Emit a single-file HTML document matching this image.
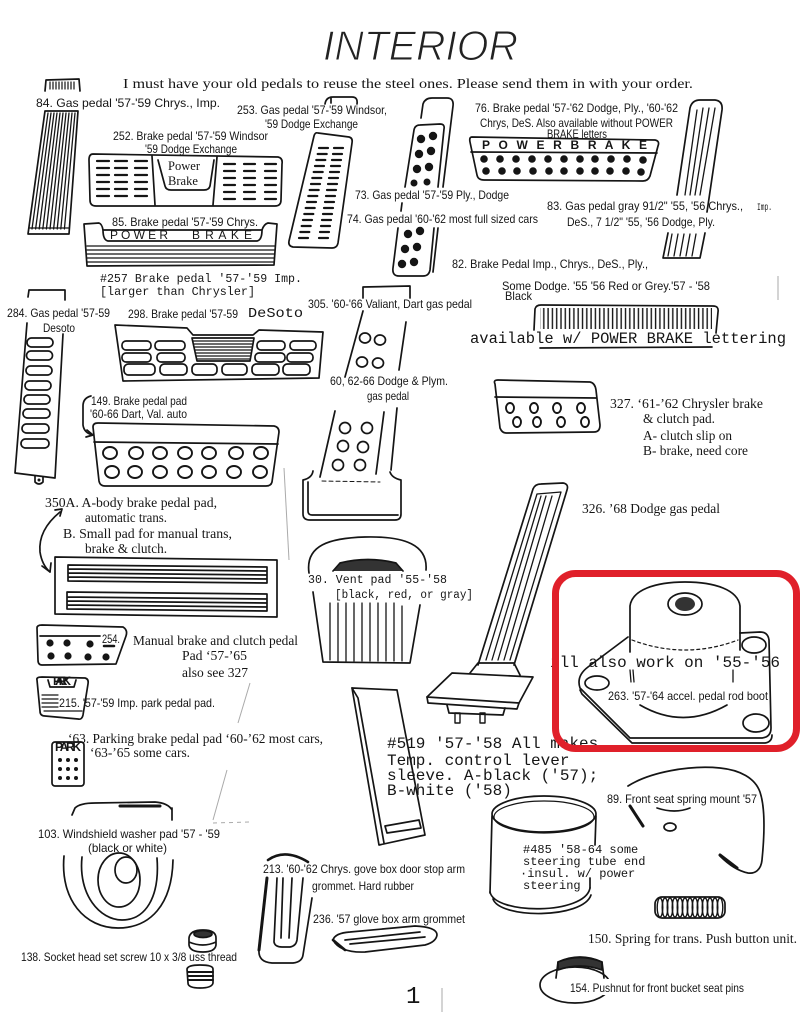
<!DOCTYPE html>
<html><head><meta charset="utf-8">
<style>
html,body{margin:0;padding:0;background:#fff;}
svg{display:block}
.s{font-family:"Liberation Sans",sans-serif;font-size:12px;fill:#151515}
.r{font-family:"Liberation Serif",serif;font-size:14px;fill:#151515}
.m{font-family:"Liberation Mono",monospace;font-size:12px;fill:#151515}
.k{fill:none;stroke:#151515;stroke-width:1.7;stroke-linejoin:round;stroke-linecap:round}
</style></head><body>
<svg width="803" height="1018" viewBox="0 0 803 1018" xmlns="http://www.w3.org/2000/svg">
<defs>
<pattern id="vl" width="4.3" height="40" patternUnits="userSpaceOnUse"><path d="M2,0V40" stroke="#151515" stroke-width="1.4"/></pattern>
</defs>
<rect width="803" height="1018" fill="#fff"/>

<!-- Title -->
<text x="323" y="60" font-family="Liberation Sans, sans-serif" font-style="italic" font-size="42" fill="#222" stroke="#fff" stroke-width="1.1" textLength="195" lengthAdjust="spacingAndGlyphs">INTERIOR</text>
<text class="r" x="123" y="88" font-size="16" textLength="570" lengthAdjust="spacingAndGlyphs">I must have your old pedals to reuse the steel ones.  Please send them in with your order.</text>

<g class="k">
<!-- 84 -->
<path d="M45,91 L46,80 L79,79 L80,91"/>
<path d="M50,82v7M53,82v7M56,82v7M59,82v7M62,82v7M65,82v7M68,82v7M71,82v7M74,82v7" stroke-width="1.2"/>
<path d="M45,111 L78,111 L69,234 L28,234 Z"/>
<path d="M48,113L32,229M51,113L35.6,229M54,113L39.2,229M57,113L42.8,229M60,113L46.4,229M63,113L50,229M66,113L53.6,229M69,113L57.2,229M72,113L60.8,229M75,113L64.4,229M29,228L69,228" stroke-width="1.3"/>

<!-- 252 -->
<path d="M93,154 L278,157 Q283,158 282,164 L281,200 Q281,206 275,206 L96,206 Q90,206 90,200 L89,160 Q89,154 93,154 Z"/>
<path d="M152,156 L155,205 M217,157 L213,205"/>
<path d="M158,160 L165,186 Q166,190 171,190 L204,190 Q209,190 210,186 L214,160"/>
<path stroke-width="2.2" d="M97,161h12M115,161h12M135,161h12M97,168h12M115,168h12M135,168h12M97,175h12M115,175h12M135,175h12M97,182h12M115,182h12M135,182h12M97,189h12M115,189h12M135,189h12M97,196h12M115,196h12M135,196h12M224,164h11M244,164h11M265,164h11M224,171h11M244,171h11M265,171h11M224,178h11M244,178h11M265,178h11M224,185h11M244,185h11M265,185h11M224,192h11M244,192h11M265,192h11M224,199h11M244,199h11M265,199h11"/>

<!-- 85 -->
<path d="M84,224 L99,223 Q102,224 103,230 L262,230 Q264,224 268,223 L277,224 L274,265 L87,266 Z"/>
<path d="M103,230 Q103,240 108,241 L257,241 Q262,240 262,230"/>
<path d="M87,246 L275,246 M87,250 L275,250 M87,254 L275,254 M87,258 L274,258 M87,262 L274,262" stroke-width="1.2"/>

<!-- 253 -->
<path d="M325,104 Q326,97 333,97 L352,97 Q358,97 357,104 M331,97 L331,103"/>
<path d="M318,133 L349,137 Q353,138 352,143 L338,243 Q337,248 332,248 L293,247 Q288,246 289,241 L314,136 Q315,132 318,133 Z"/>
<path stroke-width="2.2" d="M319,148h9M334,148h9M317.7,154h9M333,154h9M316.3,160h9M332,160h9M315,166h9M331,166h9M313.7,172h9M330,172h9M312.3,178h9M329,178h9M311,184h9M328,184h9M309.7,190h9M327,190h9M308.3,196h9M326,196h9M307,202h9M325,202h9M305.7,208h9M324,208h9M304.3,214h9M323,214h9M303,220h9M322,220h9M301.7,226h9M321,226h9M300.3,232h9M320,232h9M299,238h9M319,238h9"/>

<!-- 73/74 -->
<path d="M421,118 L423,104 Q425,98 432,98 L447,98 Q454,98 453,106 L443,187 M438,228 L433,272"/>
<path d="M414,130 Q415,125 420,125 L440,124 Q445,124 444,129 L438,187 M434,228 L430,270 Q429,276 423,276 L399,276 Q392,276 393,268 L398,228 M401,211 L402,203 M405,187 L414,130"/>

<!-- 76 -->
<path d="M472,137 L655,140 Q660,141 658,146 L650,176 Q648,181 643,181 L484,180 Q478,180 477,175 L470,142 Q469,137 472,137 Z"/>
<path d="M471,152 L657,153"/>

<!-- 83 -->
<path d="M677,195 L690,108 Q692,100 700,100 L715,100 Q723,101 722,110 L707,212 M705,233 L700,258 L663,258 L668,233"/>
<path d="M697,110 L685,195 M703,108 L690,195 M709,108 L695,195 M715,108 L700,195 M672,234 L668,256 M678,234 L674,256 M684,234 L680,256 M690,234 L686,256 M696,234 L692,256" stroke-width="1.3"/>

<!-- 82 -->
<path d="M534,330 L535,309 Q536,305 541,305 L713,306 Q719,306 718,312 L716,333"/>
<path d="M540,348 L712,347"/>

<!-- 284 -->
<path d="M28,297 L29,290 L65,290 L65,300"/>
<path d="M27,323 L15,473 L55,478 M63,334 L55,478"/>
<path d="M35,476 L35,482 Q39,486 43,482 L43,477"/>
<rect x="27" y="338" width="26" height="9" rx="4.5"/>
<rect x="26.5" y="351" width="26" height="9" rx="4.5"/>
<rect x="26" y="366" width="26" height="9" rx="4.5"/>
<rect x="25" y="381" width="26" height="9" rx="4.5"/>
<rect x="24" y="395" width="26" height="9" rx="4.5"/>
<rect x="23" y="409" width="27" height="9" rx="4.5"/>
<rect x="22" y="424" width="27" height="9" rx="4.5"/>
<rect x="21" y="439" width="28" height="9" rx="4.5"/>

<!-- 298 -->
<path d="M115,325 L187,328 L193,335 L253,335 L259,330 L323,332 L319,378 L123,381 Z"/>
<rect x="122" y="341" width="29" height="9" rx="4"/>
<rect x="155" y="341" width="30" height="9" rx="4"/>
<rect x="257" y="341" width="28" height="9" rx="4"/>
<rect x="290" y="341" width="26" height="9" rx="4"/>
<rect x="122" y="353" width="29" height="9" rx="4"/>
<rect x="157" y="353" width="28" height="9" rx="4"/>
<rect x="255" y="353" width="30" height="9" rx="4"/>
<rect x="287" y="353" width="26" height="9" rx="4"/>
<rect x="124" y="364" width="31" height="11" rx="4.5"/>
<rect x="160" y="364" width="27" height="11" rx="4.5"/>
<rect x="192" y="364" width="25" height="11" rx="4.5"/>
<rect x="222" y="364" width="25" height="11" rx="4.5"/>
<rect x="252" y="364" width="27" height="11" rx="4.5"/>
<rect x="283" y="364" width="27" height="11" rx="4.5"/>
<path d="M192,338 L254,338 L250,361 L197,361 Z"/>
<path d="M193,341H253M194,344H252M195,347H252M195,350H251M196,353H251M196,356H250M197,359H250" stroke-width="1.2"/>

<!-- 305 -->
<path d="M363,298 L363,287 L410,286 L410,298"/>
<path d="M363,311 L345,377 M406,322 L399,370"/>
<ellipse cx="365" cy="338" rx="5.5" ry="5"/>
<ellipse cx="380" cy="340" rx="5.5" ry="5"/>
<ellipse cx="362" cy="362" rx="5.5" ry="5"/>
<ellipse cx="378" cy="363" rx="5.5" ry="5"/>

<!-- 60,62-66 -->
<path d="M335,411 L320,477 M384,412 L376,474 M397,408 L391,470"/>
<ellipse cx="345" cy="428" rx="5.5" ry="5.5"/>
<ellipse cx="367" cy="428" rx="5.5" ry="5.5"/>
<ellipse cx="343" cy="446" rx="5.5" ry="5.5"/>
<ellipse cx="363" cy="447" rx="5.5" ry="5.5"/>
<ellipse cx="338" cy="465" rx="5.5" ry="5.5"/>
<ellipse cx="360" cy="465" rx="5.5" ry="5.5"/>
<path d="M313,471 Q312,478 303,480 L303,514 Q303,520 310,520 L395,520 Q401,520 401,514 L401,480 Q392,478 390,472"/>
<path d="M308,482 L308,511 Q308,515 312,515 L398,515"/>
<path d="M322,481 L380,482" stroke-dasharray="4,3" stroke-width="1"/>

<!-- 149 -->
<path d="M93,427 Q93,423 98,423 L274,426 Q279,427 279,432 L272,482 Q271,486 266,486 L105,486 Q100,486 99,481 Z"/>
<path d="M94,442 L278,444"/>
<path d="M91,396 Q83,398 83,406 L83,425 Q84,433 93,435 M87,430 L93,435 L86,437"/>
<g stroke-width="1.9">
<ellipse cx="110" cy="453" rx="7" ry="6"/><ellipse cx="136" cy="453" rx="7" ry="6"/><ellipse cx="160" cy="453" rx="7" ry="6"/><ellipse cx="185" cy="453" rx="7" ry="6"/><ellipse cx="209" cy="453" rx="7" ry="6"/><ellipse cx="236" cy="453" rx="7" ry="6"/><ellipse cx="261" cy="453" rx="7" ry="6"/>
<ellipse cx="112" cy="472" rx="7" ry="6"/><ellipse cx="135" cy="472" rx="7" ry="6"/><ellipse cx="160" cy="472" rx="7" ry="6"/><ellipse cx="185" cy="472" rx="7" ry="6"/><ellipse cx="209" cy="472" rx="7" ry="6"/><ellipse cx="234" cy="472" rx="7" ry="6"/><ellipse cx="260" cy="472" rx="7" ry="6"/>
</g>

<!-- 327 -->
<path d="M495,384 Q493,380 498,380 L590,382 Q595,383 596,390 L600,425 Q600,432 594,432 L506,433 Q502,433 500,428 Z"/>
<path d="M495,397 L596,398"/>
<g stroke-width="1.9">
<ellipse cx="510" cy="408" rx="4" ry="5"/><ellipse cx="534" cy="408" rx="4" ry="5"/><ellipse cx="557" cy="408" rx="4" ry="5"/><ellipse cx="581" cy="408" rx="4" ry="5"/>
<ellipse cx="517" cy="422" rx="4" ry="5"/><ellipse cx="537" cy="422" rx="4" ry="5"/><ellipse cx="561" cy="422" rx="4" ry="5"/><ellipse cx="585" cy="422" rx="4" ry="5"/>
</g>

<!-- 326 -->
<path d="M478,665 L533,489 Q535,484 541,484 L563,483 Q569,484 567,490 L514,665"/>
<path d="M486,660 L537,494 L561,492 L510,660 M492,660 L541,496 M498,660 L546,496 M504,660 L552,496" stroke-width="1.3"/>
<path d="M470,673 L478,663 L514,663 L520,675"/>
<path d="M427,697 L452,673 L533,677 L519,703 Z"/>
<path d="M427,697 L428,703 L517,709 L519,703"/>
<path d="M447,705 L449,713 L503,715 L505,708"/>
<rect x="455" y="713" width="5" height="10" stroke-width="1.4"/>
<rect x="480" y="713" width="5" height="10" stroke-width="1.4"/>

<!-- 350A -->
<path d="M60,512 Q38,530 40,552 Q42,565 50,572"/>
<path d="M55,510 L62,509 L60,516 M42,566 L50,572 L51,563"/>
<path d="M55,557 L277,560 L277,617 L55,614 Z"/>
<path d="M68,565 L267,567 L267,583 L68,581 Z M68,569 L267,571 M68,573 L267,575 M68,577 L267,579"/>
<path d="M67,592 L267,594 L267,611 L67,609 Z M67,597 L267,599 M67,601 L267,603 M67,605 L267,607"/>

<!-- 30 vent pad -->
<path d="M309,573 C305,545 330,538 365,537 C405,536 428,545 426,570"/>
<path d="M333,571 L340,563 Q368,556 396,563 L403,571" fill="#333"/>
<path d="M313,592 L323,662 L410,663 L420,605"/>
<path d="M330,603V660M338,603V661M346,603V661M354,603V661M362,603V661M370,603V661M378,603V661M386,603V661M394,603V661M402,606V661" stroke-width="1.3"/>

<!-- 519 sleeve -->
<path d="M352,688 L397,690 L425,835 L379,845 Z"/>
<path d="M352,688 L358,698 L384,843"/>
<path d="M385,826 L419,820 L421,828 L387,833 Z"/>

<!-- 254 -->
<path d="M37,628 Q37,625 42,625 L123,627 Q128,630 126,636 L116,664 L42,665 Q38,665 38,660 Z"/>
<path d="M40,636 L100,636"/>
<path d="M104,646 L114,646" stroke-width="2.5"/>

<!-- 215 -->
<path d="M37,680 Q36,677 42,677 L85,678 Q89,679 88,684 L83,715 Q82,720 78,719 L45,716 Q40,716 40,711 Z"/>
<path d="M48,680 L50,687 L74,687 L76,680"/>
<path d="M42,695 L58,695 M42,699 L58,699 M42,703 L58,703 M42,707 L58,707 M44,711 L82,711" stroke-width="1.2"/>

<!-- 63 park -->
<rect x="52" y="742" width="32" height="44" rx="3"/>

<!-- 263 boot -->
<path d="M630,652 L630,606 C632,590 655,582 685,582 C715,582 738,590 740,606 L740,650"/>
<path d="M632,640 Q685,660 738,640" stroke-dasharray="3,3" stroke-width="1.2"/>
<ellipse cx="685" cy="604" rx="17" ry="11"/>
<path d="M628,637 L588,667 Q576,676 580,688 L630,738 L762,738 Q771,737 771,728 L769,640 Q768,632 760,632 L740,633"/>
<path d="M580,690 L582,694 L632,743 L765,743 Q772,742 772,735"/>
<ellipse cx="597" cy="683" rx="12" ry="7"/>
<ellipse cx="754" cy="645" rx="12" ry="8"/>
<ellipse cx="756" cy="723" rx="13" ry="9"/>
<path d="M640,705 Q683,730 727,705"/>
<path d="M630,670 L631,682 M633,670 L634,682 M733,670 L733,682" stroke-width="1.3"/>

<!-- 89 -->
<path d="M628,786 C650,772 690,765 720,768 C740,770 755,778 760,792 C766,810 764,840 762,860 C761,870 755,874 748,873 C738,871 728,864 720,856"/>
<path d="M630,806 L643,826 M720,855 L737,868" stroke-width="3"/>
<path d="M657,808 Q675,814 690,808"/>
<ellipse cx="670" cy="827" rx="6" ry="4"/>

<!-- 485 -->
<ellipse cx="544" cy="814" rx="52" ry="18"/>
<ellipse cx="544" cy="817" rx="50" ry="16" stroke-width="1.2"/>
<path d="M492,816 L490,893 M596,816 L595,845 M590,878 L590,888"/>
<path d="M490,892 C495,915 585,915 590,888 M493,899 C500,919 583,919 591,895"/>

<!-- 150 spring -->
<rect x="655" y="897" width="70" height="21" rx="7"/>
<g stroke-width="1.4">
<ellipse cx="660" cy="907.5" rx="2.8" ry="9.5"/><ellipse cx="665" cy="907.5" rx="2.8" ry="9.5"/><ellipse cx="670" cy="907.5" rx="2.8" ry="9.5"/><ellipse cx="675" cy="907.5" rx="2.8" ry="9.5"/><ellipse cx="680" cy="907.5" rx="2.8" ry="9.5"/><ellipse cx="685" cy="907.5" rx="2.8" ry="9.5"/><ellipse cx="690" cy="907.5" rx="2.8" ry="9.5"/><ellipse cx="695" cy="907.5" rx="2.8" ry="9.5"/><ellipse cx="700" cy="907.5" rx="2.8" ry="9.5"/><ellipse cx="705" cy="907.5" rx="2.8" ry="9.5"/><ellipse cx="710" cy="907.5" rx="2.8" ry="9.5"/><ellipse cx="715" cy="907.5" rx="2.8" ry="9.5"/><ellipse cx="720" cy="907.5" rx="2.8" ry="9.5"/>
</g>

<!-- 154 -->
<ellipse cx="575" cy="985" rx="35" ry="18"/>
<path d="M556,978 L558,962 Q580,952 602,962 L604,978"/>
<path d="M558,962 Q580,953 602,962 L602,970 Q580,962 558,970 Z" fill="#333"/>

<!-- 103 -->
<path d="M72,815 L75,808 Q80,803 95,803 L155,802 Q168,803 172,810 M172,808 L172,820"/>
<path d="M120,806 L160,806" stroke-width="3"/>
<path d="M64,856 C60,900 85,928 118,928 C150,928 172,905 173,860"/>
<path d="M82,857 C78,895 100,920 122,920 C145,920 160,898 157,858"/>
<ellipse cx="119" cy="880" rx="21" ry="27"/>
<ellipse cx="126" cy="870" rx="11" ry="13"/>

<!-- 138 -->
<path d="M189,938 Q190,930 203,930 Q216,930 216,938 L216,945 Q215,952 203,952 Q190,952 189,945 Z M189,942 Q203,948 216,942"/>
<ellipse cx="203" cy="934" rx="9" ry="3.5" fill="#333"/>
<path d="M187,969 Q188,965 200,965 Q213,965 213,969 L213,983 Q212,988 200,988 Q188,988 188,983 Z"/>
<path d="M188,972 L213,972 M188,976 L213,976 M188,980 L213,980" stroke-width="2"/>

<!-- 213 -->
<path d="M268,860 Q285,848 308,862" stroke-width="2.6"/>
<path d="M267,878 L259,950 Q258,962 272,963 L293,963 Q302,962 303,955 L312,898"/>
<path d="M267,878 L259,950" stroke-width="3"/>
<path d="M277,878 L274,942 Q275,947 282,947 L290,947 Q296,946 297,940 L303,878 M283,878 L281,938 M292,878 L289,938"/>

<!-- 236 -->
<path d="M333,940 Q335,933 350,932 L415,926 Q437,927 437,935 Q436,942 425,945 L365,952 Q340,953 333,940 Z"/>
<path d="M345,940 L420,932 M350,944 L425,937"/>
<path d="M333,940 L345,950" stroke-width="2.6"/>
</g>

<!-- faint scan lines -->
<g fill="none" stroke="#aaa" stroke-width="1">
<path d="M284,468 L289,560"/>
<path d="M250,683 L238,723 M227,770 L213,820"/>
<path d="M213,823 L250,822" stroke-dasharray="4,4"/>
<path d="M778,276 L778,300"/>
<path d="M442,988 L442,1012"/>
</g>

<!-- Pattern fills / dots -->
<rect x="540" y="308" width="172" height="21" fill="url(#vl)"/>
<g fill="#151515">
<circle cx="421" cy="139" r="4.2"/><circle cx="433" cy="136" r="4.2"/><circle cx="419" cy="154" r="4.2"/><circle cx="431" cy="151" r="4.2"/><circle cx="417" cy="169" r="4.2"/><circle cx="429" cy="167" r="4.2"/><circle cx="414" cy="183" r="3.5"/><circle cx="427" cy="182" r="3.5"/>
<circle cx="408" cy="234" r="4.2"/><circle cx="420" cy="231" r="4.2"/><circle cx="405" cy="249" r="4.2"/><circle cx="417" cy="247" r="4.2"/><circle cx="402" cy="264" r="4.2"/><circle cx="414" cy="262" r="4.2"/>
<circle cx="484" cy="159" r="3.8"/><circle cx="500" cy="159" r="3.8"/><circle cx="516" cy="159" r="3.8"/><circle cx="532" cy="159" r="3.8"/><circle cx="548" cy="159" r="3.8"/><circle cx="564" cy="159" r="3.8"/><circle cx="580" cy="159" r="3.8"/><circle cx="595" cy="159" r="3.8"/><circle cx="611" cy="159" r="3.8"/><circle cx="627" cy="159" r="3.8"/><circle cx="643" cy="160" r="3.8"/>
<circle cx="486" cy="171" r="3.8"/><circle cx="502" cy="171" r="3.8"/><circle cx="517" cy="171" r="3.8"/><circle cx="533" cy="171" r="3.8"/><circle cx="549" cy="171" r="3.8"/><circle cx="564" cy="171" r="3.8"/><circle cx="580" cy="171" r="3.8"/><circle cx="595" cy="171" r="3.8"/><circle cx="610" cy="171" r="3.8"/><circle cx="626" cy="171" r="3.8"/><circle cx="641" cy="172" r="3.8"/>
<circle cx="50" cy="643" r="3.6"/><circle cx="67" cy="643" r="3.6"/><circle cx="90" cy="644" r="3.6"/>
<circle cx="51" cy="656" r="3.6"/><circle cx="68" cy="656" r="3.6"/><circle cx="88" cy="657" r="3.6"/><circle cx="106" cy="657" r="3.6"/>
<circle cx="60" cy="760" r="2"/><circle cx="68" cy="760" r="2"/><circle cx="76" cy="760" r="2"/>
<circle cx="60" cy="769" r="2"/><circle cx="68" cy="769" r="2"/><circle cx="76" cy="769" r="2"/>
<circle cx="60" cy="778" r="2"/><circle cx="68" cy="778" r="2"/><circle cx="76" cy="778" r="2"/>
<circle cx="39" cy="480" r="1.5"/>
<ellipse cx="685" cy="604" rx="10" ry="7" fill="#333"/>
</g>

<!-- small inset letters -->
<text class="s" x="110" y="239" font-size="7" textLength="58" lengthAdjust="spacing">P O W E R</text>
<text class="s" x="192" y="239" font-size="7" textLength="60" lengthAdjust="spacing">B R A K E</text>
<text class="s" x="482" y="149" font-size="6" font-weight="bold" textLength="165" lengthAdjust="spacing">P  O  W  E  R      B  R  A  K  E</text>
<text class="s" x="53" y="685" font-size="5" font-weight="bold" textLength="18" lengthAdjust="spacing">PARK</text>
<text class="s" x="55" y="751" font-size="6" font-weight="bold" textLength="26" lengthAdjust="spacing">PARK</text>

<!-- Sans labels -->
<g class="s">
<text x="36" y="107" textLength="184" lengthAdjust="spacingAndGlyphs">84. Gas pedal '57-'59 Chrys., Imp.</text>
<text x="237" y="114" textLength="150" lengthAdjust="spacingAndGlyphs">253. Gas pedal '57-'59 Windsor,</text>
<text x="265" y="128" textLength="93" lengthAdjust="spacingAndGlyphs">'59 Dodge Exchange</text>
<text x="113" y="140" textLength="155" lengthAdjust="spacingAndGlyphs">252. Brake pedal '57-'59 Windsor</text>
<text x="145" y="153" textLength="92" lengthAdjust="spacingAndGlyphs">'59 Dodge Exchange</text>
<text x="112" y="226" textLength="146" lengthAdjust="spacingAndGlyphs">85. Brake pedal '57-'59 Chrys.</text>
<text x="475" y="112" textLength="203" lengthAdjust="spacingAndGlyphs">76. Brake pedal '57-'62 Dodge, Ply., '60-'62</text>
<text x="480" y="127" textLength="193" lengthAdjust="spacingAndGlyphs">Chrys, DeS. Also available without POWER</text>
<text x="547" y="138" textLength="60" lengthAdjust="spacingAndGlyphs">BRAKE letters</text>
<text x="355" y="199" textLength="154" lengthAdjust="spacingAndGlyphs">73. Gas pedal '57-'59 Ply., Dodge</text>
<text x="347" y="223" textLength="191" lengthAdjust="spacingAndGlyphs">74. Gas pedal '60-'62 most full sized cars</text>
<text x="547" y="210" textLength="196" lengthAdjust="spacingAndGlyphs">83. Gas pedal gray 91/2" '55, '56 Chrys.,</text>
<text x="567" y="226" textLength="148" lengthAdjust="spacingAndGlyphs">DeS., 7 1/2" '55, '56 Dodge, Ply.</text>
<text x="452" y="268" textLength="196" lengthAdjust="spacingAndGlyphs">82. Brake Pedal Imp., Chrys., DeS., Ply.,</text>
<text x="502" y="290" textLength="208" lengthAdjust="spacingAndGlyphs">Some Dodge. '55 '56  Red or Grey.'57 - '58</text>
<text x="505" y="300" textLength="27" lengthAdjust="spacingAndGlyphs">Black</text>
<text x="308" y="308" textLength="164" lengthAdjust="spacingAndGlyphs">305. '60-'66 Valiant, Dart gas pedal</text>
<text x="7" y="317" textLength="103" lengthAdjust="spacingAndGlyphs">284. Gas pedal '57-59</text>
<text x="43" y="332" textLength="32" lengthAdjust="spacingAndGlyphs">Desoto</text>
<text x="128" y="318" textLength="110" lengthAdjust="spacingAndGlyphs">298. Brake pedal '57-59</text>
<text x="330" y="385" textLength="118" lengthAdjust="spacingAndGlyphs">60, 62-66 Dodge &amp; Plym.</text>
<text x="367" y="400" textLength="42" lengthAdjust="spacingAndGlyphs">gas pedal</text>
<text x="91" y="405" textLength="96" lengthAdjust="spacingAndGlyphs">149. Brake pedal pad</text>
<text x="90" y="418" textLength="97" lengthAdjust="spacingAndGlyphs">'60-66 Dart, Val. auto</text>
<text x="102" y="643" textLength="18" lengthAdjust="spacingAndGlyphs">254.</text>
<text x="59" y="707" textLength="156" lengthAdjust="spacingAndGlyphs">215. '57-'59 Imp. park pedal pad.</text>
<text x="608" y="700" textLength="160" lengthAdjust="spacingAndGlyphs">263. '57-'64 accel. pedal rod  boot</text>
<text x="607" y="803" textLength="150" lengthAdjust="spacingAndGlyphs">89. Front seat spring mount '57</text>
<text x="38" y="838" textLength="182" lengthAdjust="spacingAndGlyphs">103. Windshield washer pad '57 - '59</text>
<text x="88" y="852" textLength="79" lengthAdjust="spacingAndGlyphs">(black or white)</text>
<text x="263" y="873" textLength="202" lengthAdjust="spacingAndGlyphs">213. '60-'62 Chrys. gove box door stop arm</text>
<text x="312" y="890" textLength="102" lengthAdjust="spacingAndGlyphs">grommet. Hard rubber</text>
<text x="313" y="923" textLength="152" lengthAdjust="spacingAndGlyphs">236. '57 glove box arm grommet</text>
<text x="21" y="961" textLength="216" lengthAdjust="spacingAndGlyphs">138. Socket head set screw 10 x 3/8 uss thread</text>
</g>
<rect x="567" y="979" width="48" height="16" fill="#fff"/>
<text class="s" x="570" y="992" textLength="174" lengthAdjust="spacingAndGlyphs">154. Pushnut for front bucket seat pins</text>

<!-- Serif labels -->
<g class="r">
<text x="168" y="170" font-size="13" textLength="32" lengthAdjust="spacingAndGlyphs">Power</text>
<text x="168" y="185" font-size="13" textLength="30" lengthAdjust="spacingAndGlyphs">Brake</text>
<text x="610" y="408" textLength="153" lengthAdjust="spacingAndGlyphs">327.  ‘61-’62 Chrysler brake</text>
<text x="643" y="423" textLength="72" lengthAdjust="spacingAndGlyphs">&amp; clutch pad.</text>
<text x="643" y="440" textLength="89" lengthAdjust="spacingAndGlyphs">A- clutch slip on</text>
<text x="643" y="455" textLength="105" lengthAdjust="spacingAndGlyphs">B- brake, need core</text>
<text x="582" y="513" textLength="138" lengthAdjust="spacingAndGlyphs">326. ’68 Dodge gas pedal</text>
<text x="45" y="507" textLength="172" lengthAdjust="spacingAndGlyphs">350A.  A-body brake pedal pad,</text>
<text x="85" y="522" textLength="82" lengthAdjust="spacingAndGlyphs">automatic trans.</text>
<text x="63" y="538" textLength="169" lengthAdjust="spacingAndGlyphs">B.  Small pad for manual trans,</text>
<text x="85" y="553" textLength="82" lengthAdjust="spacingAndGlyphs">brake &amp; clutch.</text>
<text x="133" y="645" textLength="165" lengthAdjust="spacingAndGlyphs">Manual brake and clutch pedal</text>
<text x="182" y="660" textLength="65" lengthAdjust="spacingAndGlyphs">Pad ‘57-’65</text>
<text x="182" y="677" textLength="66" lengthAdjust="spacingAndGlyphs">also see 327</text>
<text x="68" y="743" textLength="255" lengthAdjust="spacingAndGlyphs">‘63. Parking brake pedal pad ‘60-’62 most cars,</text>
<text x="90" y="757" textLength="100" lengthAdjust="spacingAndGlyphs">‘63-’65 some cars.</text>
<text x="588" y="943" textLength="209" lengthAdjust="spacingAndGlyphs">150. Spring for trans. Push button unit.</text>
</g>

<!-- Mono labels -->
<g class="m">
<text x="757" y="210" font-size="10" textLength="15" lengthAdjust="spacingAndGlyphs">Imp.</text>
<text x="100" y="282" textLength="202" lengthAdjust="spacingAndGlyphs">#257 Brake pedal '57-'59 Imp.</text>
<text x="100" y="295" textLength="155" lengthAdjust="spacingAndGlyphs">[larger than Chrysler]</text>
<text x="248" y="317" font-size="14" textLength="55" lengthAdjust="spacingAndGlyphs">DeSoto</text>
<text x="470" y="343" font-size="15.5" textLength="316" lengthAdjust="spacingAndGlyphs">available w/ POWER BRAKE lettering</text>
<text x="308" y="583" font-size="11.5" textLength="139" lengthAdjust="spacingAndGlyphs">30. Vent pad  '55-'58</text>
<text x="335" y="598" font-size="11.5" textLength="138" lengthAdjust="spacingAndGlyphs">[black, red, or gray]</text>
<text x="550" y="667" font-size="16" textLength="230" lengthAdjust="spacingAndGlyphs">ill also work on '55-'56</text>
<text x="387" y="748" font-size="16">#519 '57-'58 All makes</text>
<text x="387" y="765" font-size="16">Temp. control lever</text>
<text x="387" y="780" font-size="16">sleeve. A-black ('57);</text>
<text x="387" y="795" font-size="16">B-white ('58)</text>
<text x="523" y="853">#485 '58-64 some</text>
<text x="523" y="865">steering tube end</text>
<text x="520" y="877">·insul. w/ power</text>
<text x="523" y="889">steering</text>
<text x="406" y="1003" font-size="24">1</text>
</g>

<!-- Red highlight box -->
<rect x="555.5" y="573.5" width="241" height="175" rx="20" fill="none" stroke="#e0202a" stroke-width="7"/>
</svg>
</body></html>
